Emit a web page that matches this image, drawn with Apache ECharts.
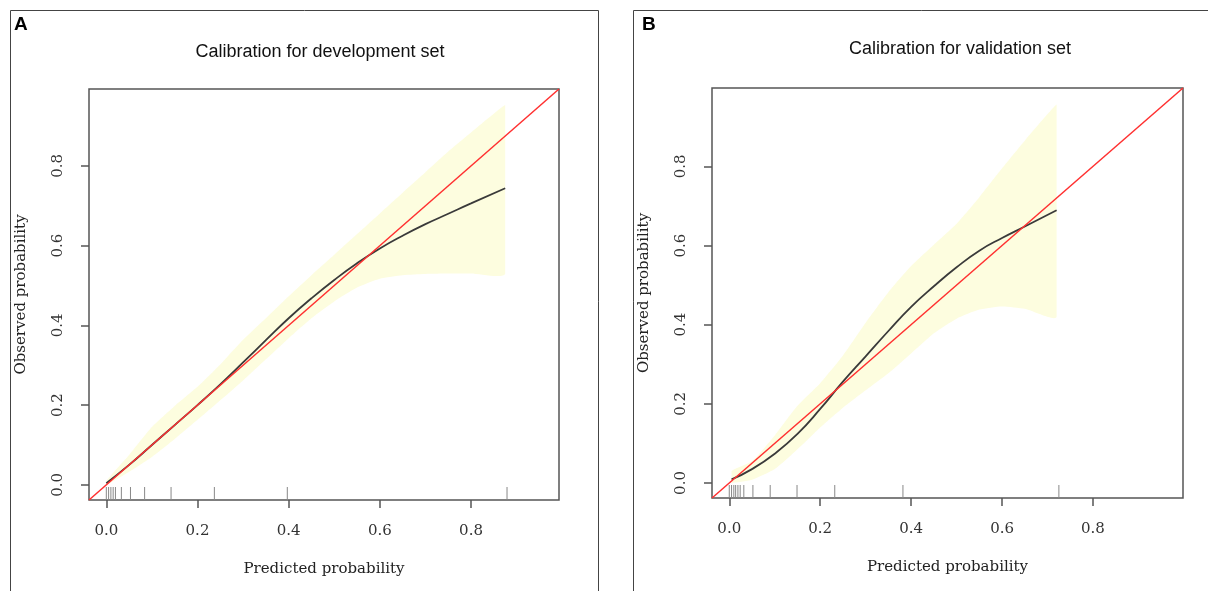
<!DOCTYPE html>
<html>
<head>
<meta charset="utf-8">
<title>Calibration plots</title>
<script src="https://cdn.jsdelivr.net/npm/echarts@6/dist/echarts.min.js"></script>
<style>
  html, body { margin: 0; padding: 0; background: #fff; }
  #chart { width: 1208px; height: 591px; }
</style>
</head>
<body>
<div id="chart"></div>
<script>
// tick labels shared by both panels
const tickValues = [0, 0.2, 0.4, 0.6, 0.8]

// A: development set
const devLimits = [-0.038, 0.993]
const devX = [0, 0.05, 0.1, 0.15, 0.2, 0.25, 0.3, 0.35, 0.4, 0.45, 0.5, 0.55, 0.6, 0.65, 0.7, 0.75, 0.8, 0.875]
const devObserved = [0.004, 0.05, 0.1, 0.15, 0.2, 0.252, 0.307, 0.363, 0.418, 0.468, 0.514, 0.556, 0.593, 0.625, 0.654, 0.68, 0.706, 0.744]
const devUpper = [0.01, 0.075, 0.145, 0.198, 0.246, 0.302, 0.364, 0.418, 0.473, 0.526, 0.577, 0.629, 0.681, 0.733, 0.784, 0.836, 0.884, 0.953]
const devLower = [0, 0.033, 0.07, 0.115, 0.163, 0.212, 0.262, 0.315, 0.368, 0.418, 0.46, 0.495, 0.517, 0.526, 0.529, 0.53, 0.53, 0.53]
const devRug = [0, 0.005, 0.01, 0.015, 0.02, 0.033, 0.053, 0.084, 0.142, 0.237, 0.397, 0.879]

// B: validation set
const valLimits = [-0.038, 0.998]
const valX = [0.005, 0.05, 0.1, 0.15, 0.2, 0.25, 0.3, 0.35, 0.4, 0.45, 0.5, 0.55, 0.6, 0.65, 0.72]
const valObserved = [0.009, 0.035, 0.074, 0.124, 0.187, 0.256, 0.32, 0.384, 0.445, 0.497, 0.545, 0.587, 0.619, 0.648, 0.689]
const valUpper = [0.03, 0.055, 0.12, 0.195, 0.252, 0.322, 0.405, 0.482, 0.548, 0.602, 0.655, 0.722, 0.795, 0.865, 0.956]
const valLower = [0, 0.008, 0.035, 0.085, 0.14, 0.19, 0.234, 0.277, 0.327, 0.378, 0.415, 0.438, 0.446, 0.44, 0.42]
const valRug = [0, 0.005, 0.01, 0.014, 0.019, 0.024, 0.032, 0.052, 0.09, 0.149, 0.232, 0.382, 0.725]

const serif = 'DejaVu Serif'
const sans = 'Liberation Sans'
const axisGrey = '#555'

const zip = (xs, ys) => xs.map((x, i) => [x, ys[i]])

const makeAxes = (idx, limits) => {
  const common = {
    type: 'value',
    gridIndex: idx,
    min: limits[0],
    max: limits[1],
    splitLine: { show: false },
    axisLine: { show: false, onZero: false },
    axisTick: { show: true, length: 8, inside: false, customValues: tickValues, lineStyle: { color: axisGrey, width: 1.5 } },
    nameTextStyle: { fontFamily: serif, fontSize: 15, color: '#222' },
    nameLocation: 'middle'
  }
  const xAxis = Object.assign({}, common, {
    position: 'bottom',
    name: 'Predicted probability',
    nameGap: 62,
    axisLabel: { customValues: tickValues, margin: 24, fontFamily: serif, fontSize: 15, color: '#333', formatter: v => v.toFixed(1) }
  })
  const yAxis = Object.assign({}, common, {
    position: 'left',
    name: 'Observed probability',
    nameGap: 60,
    axisLabel: { customValues: tickValues, rotate: 90, margin: 23, fontFamily: serif, fontSize: 15, color: '#333', formatter: v => v.toFixed(1) }
  })
  return { xAxis, yAxis }
}

// confidence band drawn as one smoothed polygon
const bandSeries = (idx, xs, lower, upper) => ({
  type: 'custom',
  xAxisIndex: idx,
  yAxisIndex: idx,
  silent: true,
  z: 1,
  data: xs.map((x, i) => [x, lower[i], upper[i]]),
  encode: { x: 0, y: [1, 2] },
  renderItem: (params, api) => {
    if (params.dataIndex !== 0) return null
    const top = xs.map((x, i) => api.coord([x, upper[i]]))
    const bottom = xs.map((x, i) => api.coord([x, lower[i]])).reverse()
    const pts = top.concat(bottom)
    const xsPx = pts.map(p => p[0])
    const ysPx = pts.map(p => p[1])
    const box = [[Math.min(...xsPx), Math.min(...ysPx)], [Math.max(...xsPx), Math.max(...ysPx)]]
    return {
      type: 'polygon',
      shape: { points: pts, smooth: 0.2, smoothConstraint: box },
      style: { fill: '#fdfddf', stroke: null }
    }
  }
})

const rugSeries = (idx, values, yMin) => ({
  type: 'custom',
  xAxisIndex: idx,
  yAxisIndex: idx,
  silent: true,
  z: 3,
  data: values.map(v => [v, yMin]),
  renderItem: (params, api) => {
    const p = api.coord([api.value(0), api.value(1)])
    return {
      type: 'line',
      shape: { x1: p[0], y1: p[1], x2: p[0], y2: p[1] - 13 },
      style: { stroke: '#888', lineWidth: 1 }
    }
  }
})

const chart = echarts.init(document.getElementById('chart'), null, { renderer: 'canvas' })

const axA = makeAxes(0, devLimits)
const axB = makeAxes(1, valLimits)

const option = {
  animation: false,
  backgroundColor: '#fff',
  grid: [
    { left: 89, top: 89, width: 470, height: 411, show: true, borderColor: axisGrey, borderWidth: 1.5, backgroundColor: 'transparent' },
    { left: 712, top: 88, width: 471, height: 410, show: true, borderColor: axisGrey, borderWidth: 1.5, backgroundColor: 'transparent' }
  ],
  xAxis: [axA.xAxis, axB.xAxis],
  yAxis: [axA.yAxis, axB.yAxis],
  graphic: [
    { type: 'rect', shape: { x: 10.5, y: 10.5, width: 588, height: 620 }, style: { fill: null, stroke: '#444', lineWidth: 1 }, silent: true },
    { type: 'rect', shape: { x: 633.5, y: 10.5, width: 620, height: 620 }, style: { fill: null, stroke: '#444', lineWidth: 1 }, silent: true },
    { type: 'text', x: 14, y: 15, style: { text: 'A', font: 'bold 19px ' + sans, fill: '#000' } },
    { type: 'text', x: 642, y: 15, style: { text: 'B', font: 'bold 19px ' + sans, fill: '#000' } },
    { type: 'text', x: 320, y: 52, style: { text: 'Calibration for development set', font: '18px ' + sans, fill: '#111', textAlign: 'center', textVerticalAlign: 'middle' } },
    { type: 'text', x: 960, y: 49, style: { text: 'Calibration for validation set', font: '18px ' + sans, fill: '#111', textAlign: 'center', textVerticalAlign: 'middle' } }
  ],
  series: [
    bandSeries(0, devX, devLower, devUpper),
    rugSeries(0, devRug, devLimits[0]),
    {
      type: 'line', xAxisIndex: 0, yAxisIndex: 0, z: 4, smooth: true, symbol: 'none',
      lineStyle: { color: '#3a3a3a', width: 1.8 },
      data: zip(devX, devObserved)
    },
    {
      type: 'line', xAxisIndex: 0, yAxisIndex: 0, z: 5, symbol: 'none',
      lineStyle: { color: '#ff3030', width: 1.5 },
      data: [[devLimits[0], devLimits[0]], [devLimits[1], devLimits[1]]]
    },
    bandSeries(1, valX, valLower, valUpper),
    rugSeries(1, valRug, valLimits[0]),
    {
      type: 'line', xAxisIndex: 1, yAxisIndex: 1, z: 4, smooth: true, symbol: 'none',
      lineStyle: { color: '#3a3a3a', width: 1.8 },
      data: zip(valX, valObserved)
    },
    {
      type: 'line', xAxisIndex: 1, yAxisIndex: 1, z: 5, symbol: 'none',
      lineStyle: { color: '#ff3030', width: 1.5 },
      data: [[valLimits[0], valLimits[0]], [valLimits[1], valLimits[1]]]
    }
  ]
}

chart.setOption(option)
window.addEventListener('resize', () => chart.resize())
</script>
</body>
</html>
